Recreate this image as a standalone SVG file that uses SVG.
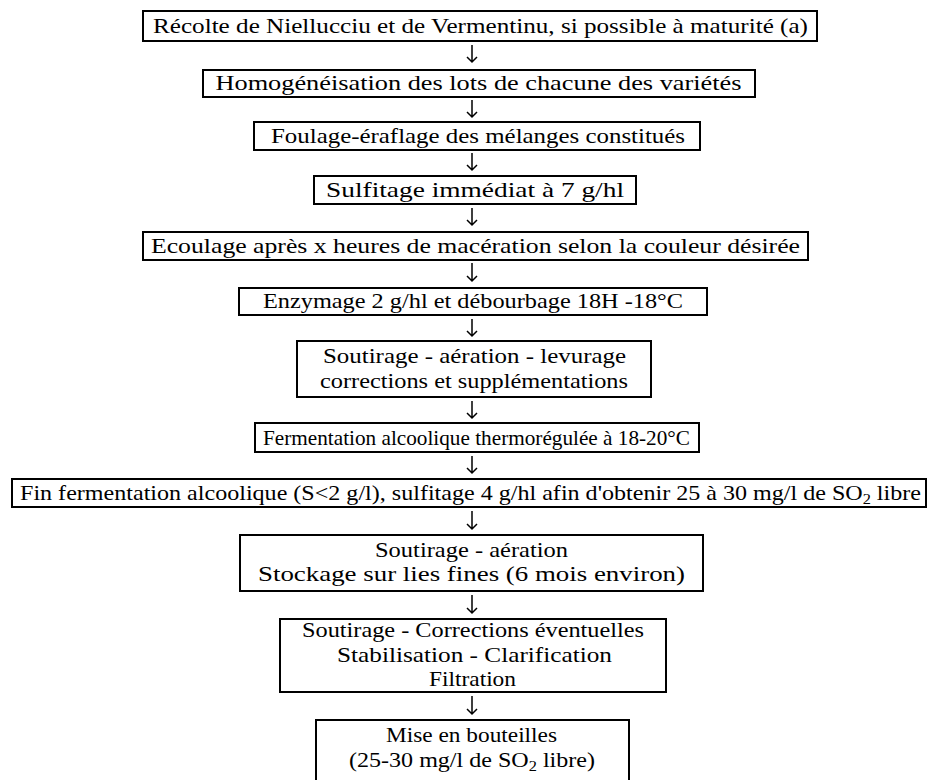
<svg xmlns="http://www.w3.org/2000/svg" width="930" height="780" viewBox="0 0 930 780">
<style>
.b{fill:#fff;stroke:#000;stroke-width:2}
.t{font-family:"Liberation Serif","Times New Roman",serif;font-size:22px;fill:#000;text-anchor:middle}
.c{stroke:#000;stroke-width:1.5;fill:none}
</style>
<rect width="930" height="780" fill="#fff"/>
<g id="n1"><rect class="b" x="143" y="11" width="674" height="30"/><text class="t" x="480.5" y="33" textLength="655" lengthAdjust="spacingAndGlyphs">Récolte de Niellucciu et de Vermentinu, si possible à maturité (a)</text></g>
<g id="n2"><rect class="b" x="203" y="70" width="552" height="27"/><text class="t" x="478.5" y="90" textLength="526" lengthAdjust="spacingAndGlyphs">Homogénéisation des lots de chacune des variétés</text></g>
<g id="n3"><rect class="b" x="254" y="122" width="446" height="28"/><text class="t" x="478" y="143" textLength="414" lengthAdjust="spacingAndGlyphs">Foulage-éraflage des mélanges constitués</text></g>
<g id="n4"><rect class="b" x="314" y="176" width="322" height="28"/><text class="t" x="475" y="197" textLength="298" lengthAdjust="spacingAndGlyphs">Sulfitage immédiat à 7 g/hl</text></g>
<g id="n5"><rect class="b" x="143" y="232" width="665" height="28"/><text class="t" x="475.5" y="253" textLength="649" lengthAdjust="spacingAndGlyphs">Ecoulage après x heures de macération selon la couleur désirée</text></g>
<g id="n6"><rect class="b" x="239" y="288" width="468" height="27"/><text class="t" x="473" y="308" textLength="420" lengthAdjust="spacingAndGlyphs">Enzymage 2 g/hl et débourbage 18H -18°C</text></g>
<g id="n7"><rect class="b" x="297" y="341" width="354" height="56"/><text class="t" x="474.5" y="363" textLength="303" lengthAdjust="spacingAndGlyphs">Soutirage - aération - levurage</text><text class="t" x="474" y="387.5" textLength="308" lengthAdjust="spacingAndGlyphs">corrections et supplémentations</text></g>
<g id="n8"><rect class="b" x="255" y="423" width="444" height="29"/><text class="t" x="476.5" y="445" textLength="427" lengthAdjust="spacingAndGlyphs">Fermentation alcoolique thermorégulée à 18-20°C</text></g>
<g id="n9"><rect class="b" x="12" y="479" width="914" height="28"/><text class="t" x="470.5" y="500" textLength="901" lengthAdjust="spacingAndGlyphs">Fin fermentation alcoolique (S&lt;2 g/l), sulfitage 4 g/hl afin d'obtenir 25 à 30 mg/l de SO<tspan font-size="15" dy="4">2</tspan><tspan dy="-4"> libre</tspan></text></g>
<g id="n10"><rect class="b" x="240" y="535" width="463" height="56"/><text class="t" x="471.5" y="556.5" textLength="193" lengthAdjust="spacingAndGlyphs">Soutirage - aération</text><text class="t" x="471.5" y="581" textLength="427" lengthAdjust="spacingAndGlyphs">Stockage sur lies fines (6 mois environ)</text></g>
<g id="n11"><rect class="b" x="280" y="619" width="386" height="73"/><text class="t" x="473" y="637" textLength="342" lengthAdjust="spacingAndGlyphs">Soutirage - Corrections éventuelles</text><text class="t" x="474.5" y="661.5" textLength="275" lengthAdjust="spacingAndGlyphs">Stabilisation - Clarification</text><text class="t" x="472.5" y="686" textLength="87" lengthAdjust="spacingAndGlyphs">Filtration</text></g>
<g id="n12"><rect class="b" x="316" y="720" width="313" height="80"/><text class="t" x="471.5" y="742" textLength="171" lengthAdjust="spacingAndGlyphs">Mise en bouteilles</text><text class="t" x="472" y="766.5" textLength="246" lengthAdjust="spacingAndGlyphs">(25-30 mg/l de SO<tspan font-size="15" dy="4">2</tspan><tspan dy="-4"> libre)</tspan></text></g>
<g id="connectors">
<path class="c" d="M472 45V62M467 57L472 62L477 57"/>
<path class="c" d="M472 100V117M467 112L472 117L477 112"/>
<path class="c" d="M472 153V170M467 165L472 170L477 165"/>
<path class="c" d="M472 208V225M467 220L472 225L477 220"/>
<path class="c" d="M472 263V281M467 276L472 281L477 276"/>
<path class="c" d="M472 319V336M467 331L472 336L477 331"/>
<path class="c" d="M472 401V418M467 413L472 418L477 413"/>
<path class="c" d="M472 456V473M467 468L472 473L477 468"/>
<path class="c" d="M472 511V529M467 524L472 529L477 524"/>
<path class="c" d="M472 595V613M467 608L472 613L477 608"/>
<path class="c" d="M472 696V714M467 709L472 714L477 709"/>
</g>
</svg>
